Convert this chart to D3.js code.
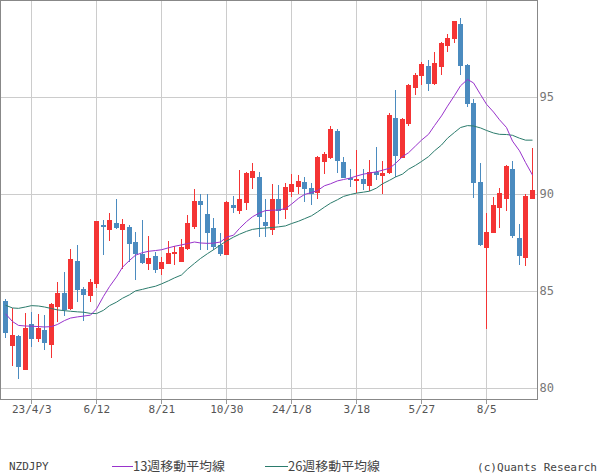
<!DOCTYPE html>
<html><head><meta charset="utf-8">
<script src="https://cdn.jsdelivr.net/npm/d3@7"></script>
<style>body{margin:0;background:#fff} svg{display:block}</style>
</head><body><svg id="c" width="600" height="475"></svg>
<script>
const symbol = "NZDJPY";
const startWeek = "2023-03-06";
const open  = [84.45,82.14,82.64,80.91,83.26,82.51,82.96,82.20,84.15,84.86,84.04,86.51,85.07,84.72,85.34,88.37,88.11,88.48,88.11,88.26,87.51,86.86,86.36,86.77,86.11,86.39,86.86,86.47,87.16,88.28,89.62,88.93,88.23,87.34,86.82,89.43,89.10,89.52,90.80,90.84,88.52,88.11,89.71,89.14,90.07,90.34,90.60,90.26,90.03,91.63,91.84,93.21,91.60,90.82,90.63,90.74,90.38,91.13,90.91,91.06,93.90,91.84,93.57,95.44,96.06,96.56,95.63,96.53,97.59,97.94,98.73,96.61,94.64,90.57,87.20,87.97,89.26,89.74,91.25,87.73,86.68,89.71];
const high  = [84.55,84.10,82.70,83.83,83.88,83.78,83.73,84.35,85.44,85.96,87.13,87.34,85.17,85.57,88.60,88.62,89.00,89.71,88.68,88.37,88.02,88.62,87.80,86.99,86.73,87.56,87.28,87.64,88.88,90.22,90.00,89.96,88.74,87.94,89.60,89.85,91.20,91.10,91.58,91.11,89.71,90.48,90.43,90.52,91.00,90.94,90.86,90.52,91.94,92.14,93.48,93.30,91.89,91.25,92.23,91.24,91.72,92.40,91.66,94.15,95.32,93.90,95.63,96.22,96.78,96.87,97.30,97.80,98.21,98.90,99.04,96.65,94.85,91.58,89.00,89.82,90.29,91.45,91.66,88.42,89.95,92.35];
const low   = [82.56,81.11,80.43,80.88,82.09,82.35,81.92,81.53,83.38,83.69,84.00,84.41,83.43,84.41,85.13,86.82,87.56,88.16,86.13,86.47,85.53,86.39,86.05,85.88,85.79,86.39,86.30,86.47,87.08,88.16,87.11,87.08,87.08,86.78,86.82,88.97,88.93,89.14,90.21,87.76,87.76,87.85,88.45,88.66,89.82,90.00,89.57,89.40,89.74,91.00,91.80,91.06,90.78,90.34,90.03,90.17,90.12,90.69,89.95,91.00,90.86,91.84,93.48,95.07,95.58,95.29,95.58,96.10,97.30,97.76,96.10,94.46,89.77,87.28,83.04,87.97,88.23,89.10,87.71,86.30,86.25,89.70];
const close = [82.81,82.70,81.06,83.06,82.51,83.06,82.30,84.29,84.86,83.98,86.61,85.03,84.76,85.43,88.57,88.33,88.62,88.23,88.42,87.39,86.87,86.42,86.70,86.05,86.46,86.94,86.99,87.22,88.48,89.62,89.43,87.97,87.25,86.87,89.54,89.26,89.71,91.05,91.15,88.79,88.33,89.71,89.10,90.32,90.48,90.65,90.22,89.96,91.89,92.03,93.31,91.68,90.80,90.72,90.74,90.48,91.13,90.96,91.08,94.04,91.94,93.83,95.58,96.10,96.66,95.67,96.73,97.75,98.00,98.88,96.58,94.59,90.55,87.34,88.02,89.40,90.03,91.42,87.80,86.78,89.86,90.17];
const ma13  = [83.80,83.40,83.20,83.17,83.16,83.14,83.12,83.14,83.25,83.45,83.58,83.64,83.68,83.73,84.05,84.70,85.20,85.70,86.20,86.55,86.82,86.95,87.02,87.06,87.10,87.20,87.28,87.35,87.42,87.50,87.45,87.43,87.44,87.50,87.75,87.85,88.20,88.55,88.80,89.00,89.12,89.14,89.15,89.22,89.45,89.75,89.95,90.05,90.15,90.40,90.50,90.65,90.72,90.80,90.90,91.00,91.05,91.12,91.20,91.30,91.55,91.90,92.10,92.45,92.75,93.05,93.50,94.00,94.50,95.05,95.55,95.88,95.70,95.10,94.60,94.20,93.80,93.40,92.70,92.20,91.60,90.95];
const ma26  = [84.24,84.10,84.08,84.15,84.22,84.20,84.15,84.07,84.00,83.96,83.93,83.90,83.88,83.82,83.81,83.98,84.22,84.40,84.60,84.78,84.98,85.06,85.14,85.22,85.34,85.50,85.65,85.80,86.10,86.40,86.65,86.90,87.10,87.35,87.55,87.75,87.90,88.05,88.15,88.20,88.22,88.25,88.28,88.33,88.45,88.57,88.70,88.85,89.05,89.30,89.50,89.68,89.85,89.95,90.02,90.07,90.12,90.28,90.50,90.68,90.85,91.00,91.25,91.45,91.65,91.90,92.20,92.50,92.85,93.15,93.40,93.50,93.48,93.38,93.25,93.12,93.05,93.04,93.00,92.85,92.75,92.75];
const tickWeeks  = ["2023-04-03","2023-06-12","2023-08-21","2023-10-30","2024-01-08","2024-03-18","2024-05-27","2024-08-05"];
const tickLabels = ["23/4/3","6/12","8/21","10/30","24/1/8","3/18","5/27","8/5"];
const yTicks = [80,85,90,95];
const legendNames = ["13週移動平均線","26週移動平均線"];
const credit = "(c)Quants Research";

const UP = "#f43434", DOWN = "#4b8bbf", C13 = "#9933cc", C26 = "#2b7b6c";
const parse = d3.utcParse("%Y-%m-%d");
const start = parse(startWeek);
const weeks = d3.utcMonday.range(start, d3.utcMonday.offset(start, open.length));
const data = weeks.map((d,i)=>({d:+d,o:open[i],h:high[i],l:low[i],c:close[i],m13:ma13[i],m26:ma26[i]}));

const L=0.5, T=0.5, R=537.5, B=399.5;
const x = d3.scaleBand().domain(data.map(d=>d.d)).range([2.05, 2.05+6.5*data.length]);
const cx = d => Math.round(x(d)+x.bandwidth()/2);
const y = d3.scaleLinear().domain([80,95]).range([387.5,96.5]);

const svg = d3.select("#c");
const font = "'DejaVu Sans Mono', monospace";

// grid
const g = svg.append("g").attr("shape-rendering","crispEdges");
g.selectAll(".hg").data(yTicks).join("line")
  .attr("x1",L).attr("x2",R).attr("y1",d=>Math.round(y(d))+0.5).attr("y2",d=>Math.round(y(d))+0.5)
  .attr("stroke","#cccccc");
g.selectAll(".vg").data(tickWeeks).join("line")
  .attr("y1",T).attr("y2",B).attr("x1",d=>cx(+parse(d))+0.5).attr("x2",d=>cx(+parse(d))+0.5)
  .attr("stroke","#cccccc");

// candles
const cg = svg.append("g").attr("shape-rendering","crispEdges");
cg.selectAll(".w").data(data).join("line")
  .attr("x1",d=>cx(d.d)+0.5).attr("x2",d=>cx(d.d)+0.5)
  .attr("y1",d=>y(d.h)).attr("y2",d=>y(d.l))
  .attr("stroke",d=>d.c>=d.o?UP:DOWN).attr("stroke-width",1);
cg.selectAll(".b").data(data).join("rect")
  .attr("x",d=>cx(d.d)-2).attr("width",5)
  .attr("y",d=>y(Math.max(d.o,d.c)))
  .attr("height",d=>Math.max(1.5,Math.abs(y(d.o)-y(d.c))))
  .attr("fill",d=>d.c>=d.o?UP:DOWN);

// MAs
const line = k => d3.line().x(d=>cx(d.d)+0.5).y(d=>y(d[k]));
svg.append("path").datum(data).attr("d",line("m26")).attr("fill","none").attr("stroke",C26).attr("stroke-width",1);
svg.append("path").datum(data).attr("d",line("m13")).attr("fill","none").attr("stroke",C13).attr("stroke-width",1);

// frame
svg.append("rect").attr("x",L).attr("y",T).attr("width",R-L).attr("height",B-T)
  .attr("fill","none").attr("stroke","#888").attr("shape-rendering","crispEdges");

// x axis
const xa = svg.append("g").attr("transform",`translate(0.5,${B})`)
  .call(d3.axisBottom(x).tickValues(tickWeeks.map(s=>+parse(s))).tickSize(4).tickPadding(2)
    .tickFormat((d,i)=>tickLabels[i]));
xa.select(".domain").remove();
xa.selectAll(".tick line").attr("stroke","#999").attr("shape-rendering","crispEdges");
xa.selectAll("text").attr("font-family",font).attr("font-size",11).attr("fill","#555");

// y axis
const ya = svg.append("g").attr("transform",`translate(${R},0)`)
  .call(d3.axisRight(y).tickValues(yTicks).tickSize(0).tickPadding(2));
ya.select(".domain").remove();
ya.selectAll("text").attr("font-family",font).attr("font-size",12).attr("fill","#777");

// legend
const ly = 466;
svg.append("text").attr("x",9).attr("y",ly+4).attr("font-family",font).attr("font-size",11).attr("fill","#444").text(symbol);
const cjk = "'Noto Sans CJK JP', sans-serif";
[[112,133,C13,legendNames[0]],[265,288,C26,legendNames[1]]].forEach(([a,b,col,txt])=>{
  svg.append("line").attr("x1",a).attr("x2",b).attr("y1",ly+0.5).attr("y2",ly+0.5).attr("stroke",col).attr("shape-rendering","crispEdges");
  svg.append("text").attr("x",b).attr("y",ly+5).attr("font-family",cjk).attr("font-size",12.5)
    .attr("fill","#444").attr("textLength",92).attr("lengthAdjust","spacingAndGlyphs").text(txt);
});
svg.append("text").attr("x",477).attr("y",ly+5).attr("font-family",font).attr("font-size",11)
  .attr("fill","#444").attr("textLength",120).attr("lengthAdjust","spacingAndGlyphs").text(credit);
</script></body></html>
